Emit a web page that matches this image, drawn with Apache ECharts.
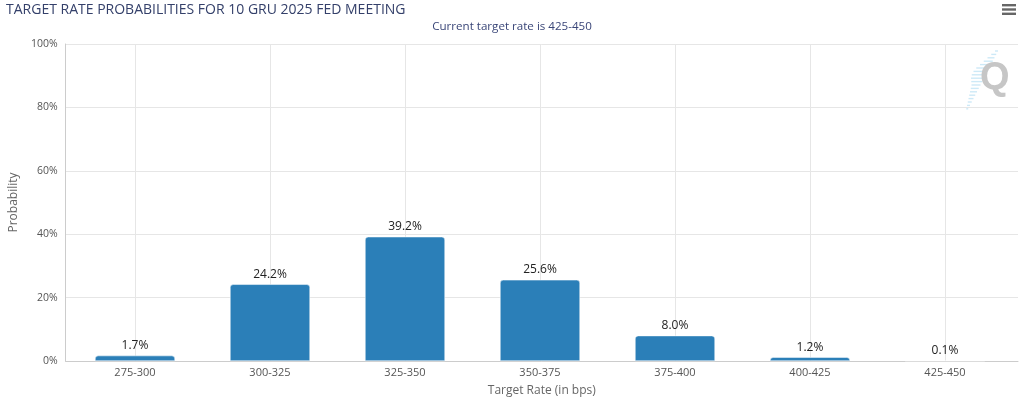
<!DOCTYPE html>
<html>
<head>
<meta charset="utf-8">
<script src="https://cdn.jsdelivr.net/npm/echarts@6/dist/echarts.min.js"></script>
<style>
html,body{margin:0;padding:0;background:#fff;}
#c{width:1024px;height:403px;}
</style>
</head>
<body>
<div id="c"></div>
<script>
const titleText = 'TARGET RATE PROBABILITIES FOR 10 GRU 2025 FED MEETING';
const subtitleText = 'Current target rate is 425-450';
const categories = ['275-300','300-325','325-350','350-375','375-400','400-425','425-450'];
const probabilities = [1.7, 24.2, 39.2, 25.6, 8.0, 1.2, 0.1];
const yTicks = [0, 20, 40, 60, 80, 100];
const xAxisName = 'Target Rate (in bps)';
const yAxisName = 'Probability';

const FONT = '"Open Sans", "Noto Sans", sans-serif';
const chart = echarts.init(document.getElementById('c'), null, {renderer: 'canvas'});

// decorative watermark dashes (logo)
const dashLens = [3, 5, 7, 9, 11, 13, 14, 14, 13, 11, 9, 8, 7, 6, 5, 4, 3, 2];
const qLines = dashLens.map((len, i) => {
  const y = 51 + i * 3.4;
  const xr = 998 - i * 1.75;
  return {
    type: 'line', silent: true, z: 0,
    shape: {x1: xr - len, y1: y, x2: xr, y2: y},
    style: {stroke: '#cde9f7', lineWidth: 1.4}
  };
});

chart.setOption({
  animation: false,
  title: [
    {text: titleText, left: 1, top: -2,
     textStyle: {fontFamily: FONT, fontSize: 14, fontWeight: 'normal', color: '#34406a'}},
    {text: subtitleText, left: 'center', top: 16,
     textStyle: {fontFamily: FONT, fontSize: 11.6, fontWeight: 'normal', color: '#3a4678'}}
  ],
  graphic: [
    {type: 'rect', shape: {x: 1002, y: 4, width: 14, height: 2.4}, style: {fill: '#666'}},
    {type: 'rect', shape: {x: 1002, y: 8.3, width: 14, height: 2.4}, style: {fill: '#666'}},
    {type: 'rect', shape: {x: 1002, y: 12.6, width: 14, height: 2.4}, style: {fill: '#666'}},
    ...qLines,
    {type: 'text', left: 980, top: 60, silent: true, z: 1,
     style: {text: 'Q', fontFamily: '"Liberation Sans", sans-serif', fontSize: 38, fontWeight: 'bold', fill: '#c6c6c6'}}
  ],
  grid: [
    {left: 60, right: 6, top: 44, bottom: 42},
    {left: 67.5, right: 11.5, top: 44, bottom: 42},
    {left: 135, right: 79, top: 44, bottom: 42}
  ],
  xAxis: [
    {type: 'category', gridIndex: 0, data: categories, show: true,
     axisLine: {show: true, lineStyle: {color: '#ccc', width: 1}},
     axisTick: {show: false}, axisLabel: {show: false}, splitLine: {show: false},
     name: xAxisName, nameLocation: 'middle', nameGap: 24,
     nameTextStyle: {fontFamily: FONT, fontSize: 12, color: '#666'}},
    {type: 'category', gridIndex: 1, data: categories,
     axisLine: {show: false}, axisTick: {show: false},
     axisLabel: {fontFamily: FONT, fontSize: 11, color: '#555', margin: 6},
     splitLine: {show: false}},
    {type: 'value', gridIndex: 2, min: 0, max: categories.length - 1, interval: 1,
     axisLine: {show: false}, axisTick: {show: false}, axisLabel: {show: false},
     splitLine: {show: true, lineStyle: {color: '#e6e6e6', width: 1}}}
  ],
  yAxis: [
    {type: 'value', gridIndex: 0, min: yTicks[0], max: yTicks[yTicks.length - 1], interval: yTicks[1] - yTicks[0],
     axisLine: {show: true, lineStyle: {color: '#ccc', width: 1}},
     axisTick: {show: false},
     axisLabel: {formatter: '{value}%', fontFamily: FONT, fontSize: 10.5, color: '#555', margin: 8},
     splitLine: {show: true, lineStyle: {color: '#e6e6e6', width: 1}},
     name: yAxisName, nameLocation: 'middle', nameGap: 44, nameRotate: 90,
     nameTextStyle: {fontFamily: FONT, fontSize: 12, color: '#666'}},
    {type: 'value', gridIndex: 1, min: yTicks[0], max: yTicks[yTicks.length - 1], show: false},
    {type: 'value', gridIndex: 2, min: 0, max: 1, show: false}
  ],
  series: [{
    type: 'bar', xAxisIndex: 1, yAxisIndex: 1,
    data: probabilities, barWidth: 80,
    itemStyle: {color: '#2b7fb8', borderRadius: [3, 3, 0, 0], borderColor: '#fff', borderWidth: 0.5},
    label: {show: true, position: 'top', distance: 4,
      formatter: p => p.value.toFixed(1) + '%',
      fontFamily: FONT, fontSize: 12, color: '#222'}
  }]
});
</script>
</body>
</html>
